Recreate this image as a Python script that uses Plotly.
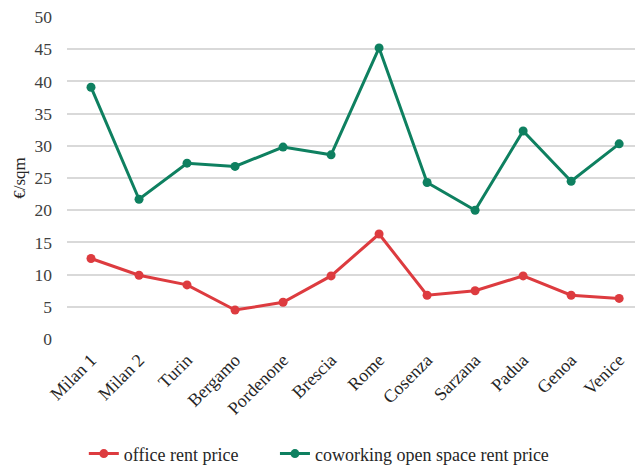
import plotly.graph_objects as go

cities = ["Milan 1", "Milan 2", "Turin", "Bergamo", "Pordenone", "Brescia",
          "Rome", "Cosenza", "Sarzana", "Padua", "Genoa", "Venice"]
office_rent = [12.5, 9.9, 8.4, 4.5, 5.7, 9.8, 16.3, 6.8, 7.5, 9.8, 6.8, 6.3]
coworking_rent = [39.1, 21.7, 27.3, 26.8, 29.8, 28.6, 45.2, 24.3, 20.0, 32.3, 24.5, 30.3]
y_ticks = [0, 5, 10, 15, 20, 25, 30, 35, 40, 45, 50]

RED = "#DD3B3F"
GREEN = "#0E8060"
FONT = "Liberation Serif"

fig = go.Figure()
fig.add_trace(go.Scatter(
    x=list(range(len(cities))), y=office_rent, mode="lines+markers",
    name="office rent price", legend="legend",
    line=dict(color=RED, width=3), marker=dict(color=RED, size=9),
))
fig.add_trace(go.Scatter(
    x=list(range(len(cities))), y=coworking_rent, mode="lines+markers",
    name="coworking open space rent price", legend="legend2",
    line=dict(color=GREEN, width=3), marker=dict(color=GREEN, size=9),
))

# legends are placed relative to the whole page so they leave the plot area alone
legend_style = dict(orientation="h", xref="container", yref="container",
                    yanchor="middle", y=0.028, xanchor="left",
                    font=dict(family=FONT, size=18, color="#262626"),
                    itemwidth=30, bgcolor="rgba(0,0,0,0)")

fig.update_layout(
    width=635, height=467,
    margin=dict(l=67, r=0, t=17, b=128, autoexpand=False),
    paper_bgcolor="white", plot_bgcolor="white",
    font=dict(family=FONT, size=17, color="#404040"),
    showlegend=True,
    legend=dict(legend_style, x=0.132),
    legend2=dict(legend_style, x=0.433),
    xaxis=dict(
        tickmode="array", tickvals=list(range(len(cities))), ticktext=cities,
        range=[-0.5, 11.33], tickangle=-45, showgrid=False, zeroline=False,
        showline=False, ticks="", automargin=False, ticklabelstandoff=6,
        tickfont=dict(family=FONT, size=18, color="#262626"),
    ),
    yaxis=dict(
        range=[0, 50], tickvals=y_ticks, showgrid=True, gridcolor="#D9D9D9",
        gridwidth=1.5, zeroline=False, showline=False, ticks="", automargin=False,
        ticklabelstandoff=14,
        tickfont=dict(family=FONT, size=17.5, color="#404040"),
        title=dict(text="€/sqm", font=dict(family=FONT, size=17, color="#262626"),
                   standoff=4),
    ),
)

fig.write_html("out.html")
